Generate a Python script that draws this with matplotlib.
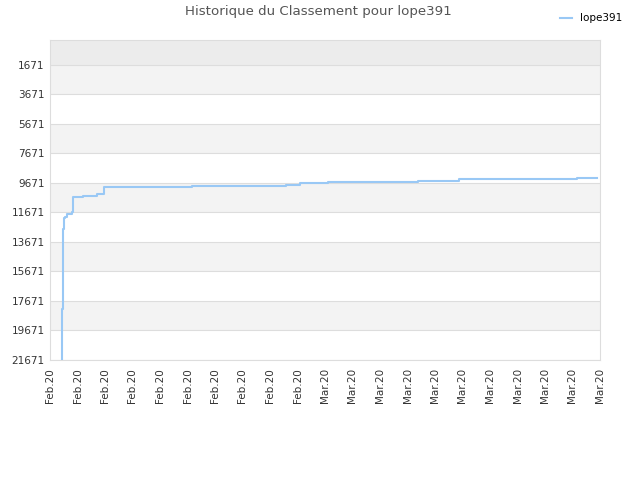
import matplotlib
matplotlib.use("Agg")
import matplotlib.pyplot as plt

# Data: day offsets (x) and rank values
days = [1.255, 1.265, 1.396, 1.505, 1.636, 1.822, 2.367, 2.542, 3.633, 5.095,
        5.945, 15.46, 25.75, 27.27, 28.07, 30.36, 40.18, 44.62, 57.46, 59.7]
ranks = [21671, 18214, 12790, 12044, 11956, 11773, 11658, 10600, 10532, 10438,
         9922, 9854, 9786, 9718, 9651, 9583, 9515, 9447, 9379, 9379]

ytick_vals = [1671, 3671, 5671, 7671, 9671, 11671, 13671, 15671, 17671, 19671, 21671]
xtick_pos = [i * 3 for i in range(21)]
xtick_labels = ["Feb.20"] * 10 + ["Mar.20"] * 11

title = "Historique du Classement pour lope391"
series_name = "lope391"
line_color = "#99c8f5"

fig = plt.figure(figsize=(6.4, 4.8), dpi=100)
ax = fig.add_axes([50 / 640, 120 / 480, 550 / 640, 320 / 480])

ax.set_xlim(0, 60)
ax.set_ylim(21671, 0)

# background bands
ax.axhspan(0, ytick_vals[0], color="#ececec", zorder=0, lw=0)
for i in range(0, len(ytick_vals) - 1, 2):
    ax.axhspan(ytick_vals[i], ytick_vals[i + 1], color="#f3f3f3", zorder=0, lw=0)
for v in ytick_vals:
    ax.axhline(v, color="#dddddd", lw=0.8, zorder=1)

ax.plot(days, ranks, color=line_color, lw=1.5, drawstyle="steps-post", zorder=3,
        label=series_name)

ax.set_yticks(ytick_vals)
ax.set_yticklabels([str(v) for v in ytick_vals], fontsize=7.5, color="#333333")
ax.set_xticks(xtick_pos)
ax.set_xticklabels(xtick_labels, rotation=90, fontsize=7.5, color="#333333")
ax.tick_params(axis="both", length=0, pad=4)
ax.tick_params(axis="x", pad=6)

for s in ax.spines.values():
    s.set_color("#dddddd")
    s.set_linewidth(0.8)

fig.text(318 / 640, 1 - 12 / 480, title, ha="center", va="center", fontsize=9.6,
         color="#555555")
fig.legend(loc="upper right", bbox_to_anchor=(632 / 640, 1 - 4 / 480), frameon=False,
           fontsize=7.5, handlelength=1.2, handletextpad=0.8)

fig.savefig("out.png", dpi=100)
